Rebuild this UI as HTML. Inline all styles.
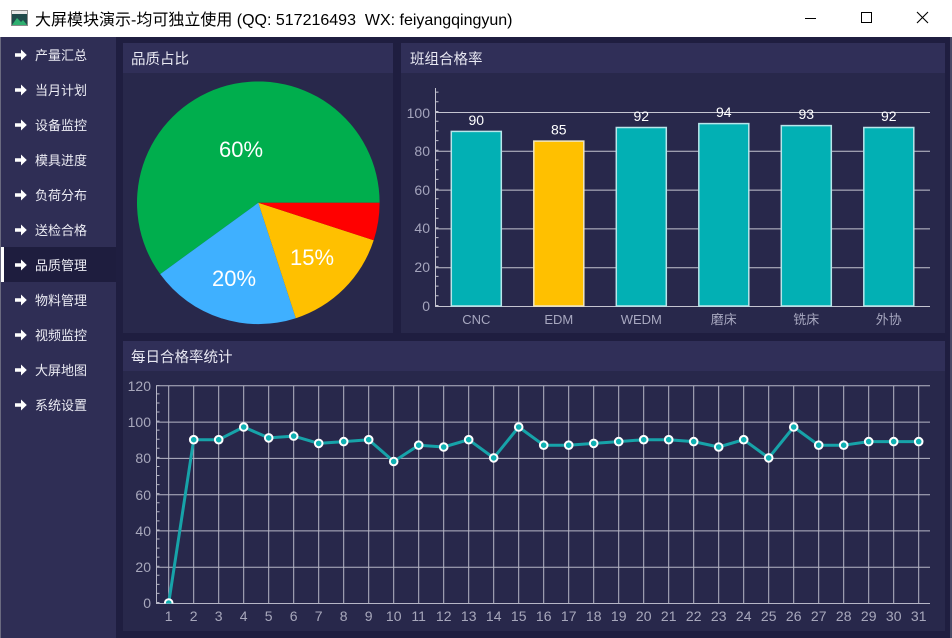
<!DOCTYPE html>
<html><head><meta charset="utf-8"><style>
html,body{margin:0;padding:0;background:#1f1e40;}
svg{display:block;}
text{font-family:"Liberation Sans","Noto Sans CJK SC",sans-serif;}
</style></head><body>
<svg width="952" height="638" viewBox="0 0 952 638" xmlns="http://www.w3.org/2000/svg">
<!-- background -->
<rect x="0" y="0" width="952" height="638" fill="#1f1e40"/>
<!-- title bar -->
<rect x="0" y="0" width="952" height="37" fill="#ffffff"/>
<rect x="11.5" y="10.5" width="16" height="15" fill="#1f4a4a" stroke="#8a8a8a"/>
<rect x="12" y="11" width="15" height="3" fill="#e8e8e8"/>
<polygon points="12,25 17,18 21,22 23,20 27,25" fill="#2fb070"/>
<text x="35" y="25" font-size="16" fill="#000">大屏模块演示-均可独立使用 (QQ: 517216493&#160; WX: feiyangqingyun)</text>
<line x1="805" y1="18.5" x2="816" y2="18.5" stroke="#000" stroke-width="1"/>
<rect x="861.5" y="12.5" width="10" height="10" fill="none" stroke="#000" stroke-width="1"/>
<path d="M917 12L928 23M928 12L917 23" stroke="#000" stroke-width="1.1"/>
<!-- borders -->
<rect x="0" y="37" width="1" height="601" fill="#6a6a80"/>
<rect x="950" y="37" width="2" height="601" fill="#4a4a66"/>
<!-- sidebar -->
<rect x="1" y="37" width="115" height="601" fill="#2f2e55"/>
<rect x="1" y="247" width="115" height="35" fill="#1e1d3e"/>
<rect x="1" y="247" width="3" height="35" fill="#ffffff"/>
<g fill="#ffffff">
<path id="arr" d="M15 53.2h6v-3.7l5.8 5.5l-5.8 5.5v-3.7h-6z"/>
<use href="#arr" y="35"/><use href="#arr" y="70"/><use href="#arr" y="105"/><use href="#arr" y="140"/><use href="#arr" y="175"/><use href="#arr" y="210"/><use href="#arr" y="245"/><use href="#arr" y="280"/><use href="#arr" y="315"/><use href="#arr" y="350"/>
</g>
<g font-size="13" fill="#ececf4">
<text x="35" y="60">产量汇总</text>
<text x="35" y="95">当月计划</text>
<text x="35" y="130">设备监控</text>
<text x="35" y="165">模具进度</text>
<text x="35" y="200">负荷分布</text>
<text x="35" y="235">送检合格</text>
<text x="35" y="270">品质管理</text>
<text x="35" y="305">物料管理</text>
<text x="35" y="340">视频监控</text>
<text x="35" y="375">大屏地图</text>
<text x="35" y="410">系统设置</text>
</g>
<!-- panels -->
<rect x="123" y="43" width="270" height="290" fill="#28284b"/>
<rect x="123" y="43" width="270" height="30" fill="#302f58"/>
<rect x="401" y="43" width="544" height="290" fill="#28284b"/>
<rect x="401" y="43" width="544" height="30" fill="#302f58"/>
<rect x="123" y="341" width="822" height="290" fill="#28284b"/>
<rect x="123" y="341" width="822" height="30" fill="#302f58"/>
<g font-size="14.5" fill="#e8e8f2">
<text x="131" y="64">品质占比</text>
<text x="410" y="64">班组合格率</text>
<text x="131" y="362">每日合格率统计</text>
</g>
<!-- pie: center 258.3,202.8 r 121.3 -->
<path d="M258.3 202.8L379.6 202.8A121.3 121.3 0 1 0 160.2 274.1Z" fill="#00ae4d"/>
<path d="M258.3 202.8L160.2 274.1A121.3 121.3 0 0 0 295.8 318.2Z" fill="#3fb0ff"/>
<path d="M258.3 202.8L295.8 318.2A121.3 121.3 0 0 0 373.7 240.3Z" fill="#ffc000"/>
<path d="M258.3 202.8L373.7 240.3A121.3 121.3 0 0 0 379.6 202.8Z" fill="#ff0000"/>
<g font-size="22" fill="#ffffff" text-anchor="middle">
<text x="241" y="157">60%</text>
<text x="234" y="286">20%</text>
<text x="312" y="265">15%</text>
</g>
<!-- bar chart -->
<g stroke="#c4c4d0" stroke-width="1">
<path d="M435 306.5H930M435 267.7H930M435 228.9H930M435 190.1H930M435 151.3H930M435 112.5H930"/>
<line x1="435.5" y1="88" x2="435.5" y2="306"/>
</g>
<line x1="437" y1="306" x2="437" y2="88" stroke="#c4c4d0" stroke-width="3" stroke-dasharray="1 8.7"/>
<g font-size="14" fill="#a4a4bc" text-anchor="end">
<text x="430" y="311">0</text>
<text x="430" y="272">20</text>
<text x="430" y="233">40</text>
<text x="430" y="195">60</text>
<text x="430" y="156">80</text>
<text x="430" y="118">100</text>
</g>
<g stroke="#b8e6ea" stroke-width="1.5">
<rect x="451.3" y="131.4" width="50" height="174.6" fill="#02b0b4"/>
<rect x="533.8" y="141.1" width="50" height="164.9" fill="#ffc000" stroke="#f0e6c0"/>
<rect x="616.3" y="127.5" width="50" height="178.5" fill="#02b0b4"/>
<rect x="698.8" y="123.6" width="50" height="182.4" fill="#02b0b4"/>
<rect x="781.3" y="125.6" width="50" height="180.4" fill="#02b0b4"/>
<rect x="863.8" y="127.5" width="50" height="178.5" fill="#02b0b4"/>
</g>
<g font-size="14" fill="#ffffff" text-anchor="middle">
<text x="476.3" y="125">90</text>
<text x="558.8" y="134.6">85</text>
<text x="641.3" y="121">92</text>
<text x="723.8" y="117">94</text>
<text x="806.3" y="119">93</text>
<text x="888.8" y="121">92</text>
</g>
<g font-size="13" fill="#a8a8c0" text-anchor="middle">
<text x="476.3" y="324">CNC</text>
<text x="558.8" y="324">EDM</text>
<text x="641.3" y="324">WEDM</text>
<text x="723.8" y="324">磨床</text>
<text x="806.3" y="324">铣床</text>
<text x="888.8" y="324">外协</text>
</g>
<!-- line chart -->
<g stroke="#b6b6c6" stroke-width="1">
<path d="M156 603.5H930M156 567.2H930M156 530.9H930M156 494.7H930M156 458.4H930M156 422.1H930M156 385.8H930"/>
<path d="M168.7 385.8V603M193.7 385.8V603M218.7 385.8V603M243.7 385.8V603M268.7 385.8V603M293.7 385.8V603M318.7 385.8V603M343.7 385.8V603M368.7 385.8V603M393.7 385.8V603M418.7 385.8V603M443.7 385.8V603M468.7 385.8V603M493.7 385.8V603M518.7 385.8V603M543.7 385.8V603M568.7 385.8V603M593.7 385.8V603M618.7 385.8V603M643.7 385.8V603M668.7 385.8V603M693.7 385.8V603M718.7 385.8V603M743.7 385.8V603M768.7 385.8V603M793.7 385.8V603M818.7 385.8V603M843.7 385.8V603M868.7 385.8V603M893.7 385.8V603M918.7 385.8V603"/>
<line x1="156.5" y1="385.5" x2="156.5" y2="603.5"/>
</g>
<line x1="158" y1="603" x2="158" y2="385" stroke="#b6b6c6" stroke-width="3" stroke-dasharray="1 8.07"/>
<g font-size="14" fill="#a8a8bc" text-anchor="end">
<text x="151" y="608">0</text>
<text x="151" y="572">20</text>
<text x="151" y="536">40</text>
<text x="151" y="500">60</text>
<text x="151" y="463">80</text>
<text x="151" y="427">100</text>
<text x="151" y="391">120</text>
</g>
<g font-size="14" fill="#a8a8bc" text-anchor="middle">
<text x="168.7" y="621">1</text><text x="193.7" y="621">2</text><text x="218.7" y="621">3</text><text x="243.7" y="621">4</text><text x="268.7" y="621">5</text><text x="293.7" y="621">6</text><text x="318.7" y="621">7</text><text x="343.7" y="621">8</text><text x="368.7" y="621">9</text><text x="393.7" y="621">10</text><text x="418.7" y="621">11</text><text x="443.7" y="621">12</text><text x="468.7" y="621">13</text><text x="493.7" y="621">14</text><text x="518.7" y="621">15</text><text x="543.7" y="621">16</text><text x="568.7" y="621">17</text><text x="593.7" y="621">18</text><text x="618.7" y="621">19</text><text x="643.7" y="621">20</text><text x="668.7" y="621">21</text><text x="693.7" y="621">22</text><text x="718.7" y="621">23</text><text x="743.7" y="621">24</text><text x="768.7" y="621">25</text><text x="793.7" y="621">26</text><text x="818.7" y="621">27</text><text x="843.7" y="621">28</text><text x="868.7" y="621">29</text><text x="893.7" y="621">30</text><text x="918.7" y="621">31</text>
</g>
<defs><clipPath id="pc"><rect x="156" y="378" width="780" height="225.5"/></clipPath></defs>
<g clip-path="url(#pc)">
<polyline fill="none" stroke="#17a3a9" stroke-width="3" stroke-linejoin="round" points="168.7,603 193.7,439.7 218.7,439.7 243.7,427 268.7,437.9 293.7,436.1 318.7,443.4 343.7,441.6 368.7,439.7 393.7,461.5 418.7,445.2 443.7,447 468.7,439.7 493.7,457.9 518.7,427 543.7,445.2 568.7,445.2 593.7,443.4 618.7,441.6 643.7,439.7 668.7,439.7 693.7,441.6 718.7,447 743.7,439.7 768.7,457.9 793.7,427 818.7,445.2 843.7,445.2 868.7,441.6 893.7,441.6 918.7,441.6"/>
<g fill="#0fb0b2" stroke="#ffffff" stroke-width="2">
<circle cx="168.7" cy="603" r="3.8"/><circle cx="193.7" cy="439.7" r="3.8"/><circle cx="218.7" cy="439.7" r="3.8"/><circle cx="243.7" cy="427" r="3.8"/><circle cx="268.7" cy="437.9" r="3.8"/><circle cx="293.7" cy="436.1" r="3.8"/><circle cx="318.7" cy="443.4" r="3.8"/><circle cx="343.7" cy="441.6" r="3.8"/><circle cx="368.7" cy="439.7" r="3.8"/><circle cx="393.7" cy="461.5" r="3.8"/><circle cx="418.7" cy="445.2" r="3.8"/><circle cx="443.7" cy="447" r="3.8"/><circle cx="468.7" cy="439.7" r="3.8"/><circle cx="493.7" cy="457.9" r="3.8"/><circle cx="518.7" cy="427" r="3.8"/><circle cx="543.7" cy="445.2" r="3.8"/><circle cx="568.7" cy="445.2" r="3.8"/><circle cx="593.7" cy="443.4" r="3.8"/><circle cx="618.7" cy="441.6" r="3.8"/><circle cx="643.7" cy="439.7" r="3.8"/><circle cx="668.7" cy="439.7" r="3.8"/><circle cx="693.7" cy="441.6" r="3.8"/><circle cx="718.7" cy="447" r="3.8"/><circle cx="743.7" cy="439.7" r="3.8"/><circle cx="768.7" cy="457.9" r="3.8"/><circle cx="793.7" cy="427" r="3.8"/><circle cx="818.7" cy="445.2" r="3.8"/><circle cx="843.7" cy="445.2" r="3.8"/><circle cx="868.7" cy="441.6" r="3.8"/><circle cx="893.7" cy="441.6" r="3.8"/><circle cx="918.7" cy="441.6" r="3.8"/>
</g>
</g>
</svg>
</body></html>
